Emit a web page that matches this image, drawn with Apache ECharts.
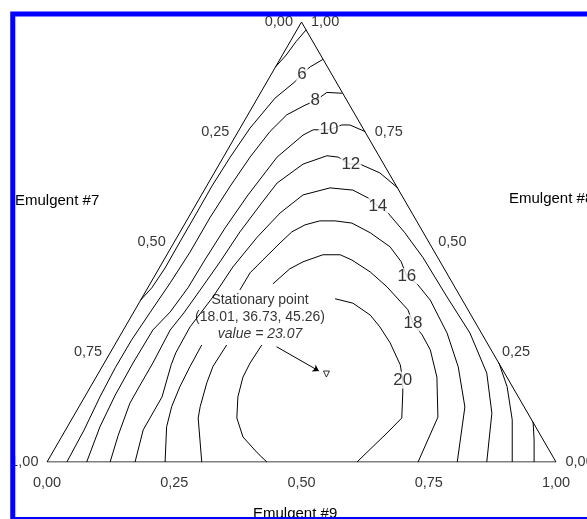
<!DOCTYPE html>
<html><head><meta charset="utf-8">
<script src="https://cdn.jsdelivr.net/npm/echarts@6/dist/echarts.min.js"></script>
<style>html,body{margin:0;padding:0;background:#fff;}#c{width:587px;height:519px;}</style>
</head><body><div id="c"></div>
<script>
const FONT = '"Liberation Sans", Arial, Helvetica, sans-serif';

// Plot coordinates: x = position along the Emulgent #9 base (0..1), y = height fraction (0 base .. 1 apex)
const triangle = [[0,0],[0.5,1],[1,0],[0,0]];
const tickValues = [0, 0.25, 0.5, 0.75, 1];
const tickLabels = ['0,00','0,25','0,50','0,75','1,00'];

// Contour polylines (null = gap)
const contour4 = [[0.509,0.982],[0.489,0.955],[0.470,0.925],[0.449,0.898]];
const contour6 = [[0.542,0.915],[0.517,0.898],[0.501,0.882],[0.487,0.864],[0.448,0.827],[0.399,0.759],[0.360,0.693],[0.324,0.627],[0.293,0.564],[0.261,0.500],[0.232,0.441],[0.206,0.396],[0.184,0.368]];
const contour8 = [[0.580,0.838],[0.550,0.840],[0.527,0.821],[0.507,0.811],[0.471,0.789],[0.438,0.751],[0.399,0.693],[0.360,0.627],[0.320,0.555],[0.281,0.477],[0.242,0.407],[0.202,0.339],[0.166,0.277],[0.134,0.214],[0.104,0.148],[0.073,0.073],[0.039,0]];
const contour10 = [[0.625,0.751],[0.595,0.766],[0.579,0.766],[0.554,0.755],[0.523,0.755],[0.503,0.743],[0.452,0.693],[0.395,0.607],[0.350,0.532],[0.310,0.459],[0.277,0.396],[0.242,0.341],[0.208,0.300],[0.169,0.225],[0.134,0.152],[0.104,0.080],[0.078,0]];
const contour10b = [[0.955,0.091],[0.957,0.050],[0.957,0]];
const contour12 = [[0.689,0.623],[0.654,0.657],[0.615,0.677],[0.595,0.677],[0.572,0.693],[0.550,0.696],[0.503,0.677],[0.452,0.634],[0.422,0.589],[0.379,0.523],[0.340,0.455],[0.301,0.391],[0.269,0.339],[0.242,0.300],[0.208,0.225],[0.183,0.175],[0.163,0.134],[0.140,0.061],[0.124,0]];
const contour12b = [[0.888,0.225],[0.904,0.171],[0.914,0.096],[0.914,0]];
const contour14 = [[0.173,0],[0.189,0.073],[0.226,0.148],[0.244,0.221],[0.253,0.248],[0.281,0.307],[0.326,0.375],[0.365,0.443],[0.413,0.511],[0.458,0.566],[0.503,0.607],[0.556,0.623],[0.601,0.618],[0.631,0.600],[0.650,0.582],[0.670,0.566],[0.703,0.521],[0.739,0.464],[0.786,0.375],[0.831,0.293],[0.864,0.202],[0.874,0.111],[0.864,0]];
const contour16 = [[0.232,0],[0.235,0.080],[0.245,0.126],[0.261,0.171],[0.281,0.217],[0.304,0.266],null,[0.379,0.391],[0.399,0.430],[0.424,0.459],[0.458,0.498],[0.481,0.523],[0.507,0.539],[0.536,0.548],[0.566,0.548],[0.599,0.543],[0.635,0.521],[0.674,0.489],[0.696,0.455],[0.707,0.421],[0.727,0.405],[0.753,0.368],[0.786,0.293],[0.808,0.216],[0.821,0.125],[0.806,0]];
const contour18 = [[0.304,0],[0.297,0.100],[0.301,0.126],[0.314,0.180],[0.326,0.217],[0.353,0.266],null,[0.444,0.405],[0.477,0.439],[0.503,0.455],[0.542,0.471],[0.576,0.471],[0.599,0.459],[0.635,0.432],[0.668,0.398],[0.709,0.346],[0.719,0.316],[0.737,0.289],[0.753,0.255],[0.766,0.193],[0.768,0.102],[0.729,0]];
const contour20 = [[0.422,0.266],[0.399,0.225],[0.385,0.193],[0.375,0.148],[0.373,0.100],[0.385,0.057],[0.413,0.021],[0.432,0],null,[0.609,0],[0.668,0.066],[0.697,0.100],[0.699,0.159],[0.699,0.186],[0.694,0.221],[0.674,0.271],[0.654,0.307],[0.635,0.334],[0.601,0.361],[0.566,0.371]];
const contours = [contour4, contour6, contour8, contour10, contour10b, contour12, contour12b, contour14, contour16, contour18, contour20];

// Contour labels
const labelLevels = [6, 8, 10, 12, 14, 16, 18, 20];
const labelAt = [[0.501,0.882],[0.527,0.821],[0.554,0.755],[0.597,0.677],[0.650,0.580],[0.707,0.421],[0.719,0.316],[0.699,0.186]];

// Stationary point
const stationaryComposition = [18.01, 36.73, 45.26];
const stationaryValue = 23.07;
const stationaryAt = [0.549, 0.200];
const arrowFrom = [0.451, 0.262];
const arrowTo = [0.534, 0.207];
const annotationAt = [0.4185, 0.3295];

function pieces(arr){
  const out = []; let cur = [];
  arr.forEach(p => { if (p === null) { if (cur.length) out.push(cur); cur = []; } else cur.push(p); });
  if (cur.length) out.push(cur);
  return out;
}

const lineBase = {type:'line', showSymbol:false, symbol:'none', silent:true, animation:false,
  lineStyle:{color:'#000', width:1}, emphasis:{disabled:true}, z:2};

const series = [];
series.push(Object.assign({}, lineBase, {data: triangle}));
contours.forEach(c => pieces(c).forEach(seg => series.push(Object.assign({}, lineBase, {data: seg}))));

const hiddenPt = {type:'scatter', symbol:'circle', symbolSize:1, itemStyle:{color:'rgba(0,0,0,0)'}, silent:true, animation:false, z:5};

series.push(Object.assign({}, hiddenPt, {
  data: labelLevels.map((v,i) => [labelAt[i][0], labelAt[i][1], v]),
  label:{show:true, position:'inside', formatter:p => String(p.value[2]), fontFamily:FONT, fontSize:17, color:'#000', backgroundColor:'#fff', padding:[0,1]}
}));
series.push(Object.assign({}, hiddenPt, {
  data: tickValues.map((t,i) => [t, 0, tickLabels[i]]),
  label:{show:true, position:'inside', offset:[0,21], formatter:p => p.value[2], fontFamily:FONT, fontSize:14.5, color:'#000'}
}));
series.push(Object.assign({}, hiddenPt, {
  data: tickValues.map((v,i) => [0.5*(1-v), 1-v, tickLabels[i]]),
  label:{show:true, position:'left', distance:8, formatter:p => p.value[2], fontFamily:FONT, fontSize:14.5, color:'#000'}
}));
series.push(Object.assign({}, hiddenPt, {
  data: tickValues.map((w,i) => [1-0.5*w, w, tickLabels[i]]),
  label:{show:true, position:'right', distance:9, formatter:p => p.value[2], fontFamily:FONT, fontSize:14.5, color:'#000'}
}));
series.push(Object.assign({}, hiddenPt, {
  data: [annotationAt],
  label:{show:true, position:'inside',
    formatter: '{n|Stationary point}\n{n|(' + stationaryComposition.join(', ') + ')}\n{i|value = ' + stationaryValue + '}',
    rich:{n:{fontFamily:FONT, fontSize:14, color:'#000', lineHeight:17, align:'center'},
          i:{fontFamily:FONT, fontSize:14, fontStyle:'italic', color:'#000', lineHeight:17, align:'center'}}}
}));
series.push({type:'scatter', silent:true, animation:false, z:6,
  symbol:'triangle', symbolRotate:180, symbolSize:6,
  itemStyle:{color:'#fff', borderColor:'#000', borderWidth:1},
  data:[stationaryAt],
  markLine:{silent:true, animation:false, symbol:['none','arrow'], symbolSize:6,
    lineStyle:{color:'#000', width:1, type:'solid'}, label:{show:false}, emphasis:{disabled:true},
    data:[[{coord:arrowFrom},{coord:arrowTo}]]}
});

const chart = echarts.init(document.getElementById('c'), null, {renderer:'canvas'});
chart.setOption({
  animation:false,
  backgroundColor:'#fff',
  grid:{left:47, top:22, width:509, height:440},
  xAxis:{type:'value', min:0, max:1, show:false},
  yAxis:{type:'value', min:0, max:1, show:false},
  series: series,
  graphic:[
    {type:'text', x:15, y:201, z:50, style:{text:'Emulgent #7', font:'15px ' + FONT, fill:'#000', align:'left', verticalAlign:'middle', textAlign:'left', textVerticalAlign:'middle'}},
    {type:'text', x:509, y:199, z:50, style:{text:'Emulgent #8', font:'15px ' + FONT, fill:'#000', align:'left', verticalAlign:'middle', textAlign:'left', textVerticalAlign:'middle'}},
    {type:'text', x:253, y:514, z:50, style:{text:'Emulgent #9', font:'15px ' + FONT, fill:'#000', align:'left', verticalAlign:'middle', textAlign:'left', textVerticalAlign:'middle'}},
    {type:'rect', z:100, silent:true, shape:{x:12.75, y:14, width:800, height:505.5}, style:{fill:'none', stroke:'#0000ff', lineWidth:5}}
  ]
});
</script></body></html>
